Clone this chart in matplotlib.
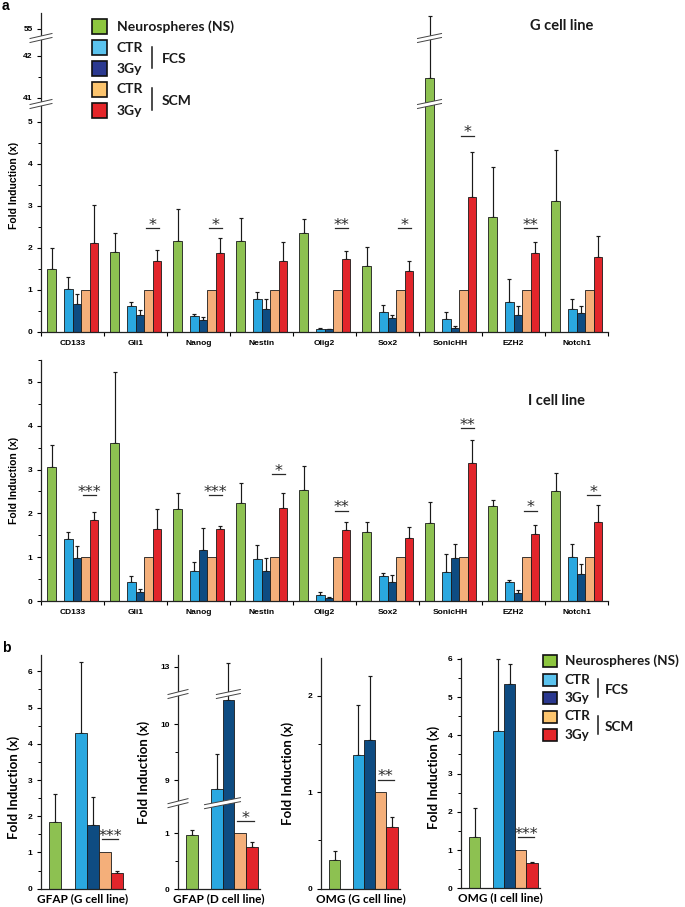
import numpy as np
import matplotlib
matplotlib.use('Agg')
import matplotlib.pyplot as plt
from matplotlib.patches import Rectangle, Polygon

# ---- data ----
genes = ['CD133', 'Gli1', 'Nanog', 'Nestin', 'Olig2', 'Sox2', 'SonicHH', 'EZH2', 'Notch1']

# G cell line (panel a, top)
g_ns = [1.50, 1.91, 2.17, 2.16, 2.36, 1.56, 41.47, 2.73, 3.11]
g_ns_sd = [0.51, 0.45, 0.76, 0.56, 0.32, 0.47, 13.83, 1.19, 1.22]
g_fcs_ctr = [1.02, 0.62, 0.37, 0.78, 0.07, 0.47, 0.30, 0.72, 0.55]
g_fcs_ctr_sd = [0.30, 0.10, 0.07, 0.18, 0.02, 0.17, 0.18, 0.53, 0.24]
g_fcs_3gy = [0.67, 0.40, 0.28, 0.54, 0.06, 0.33, 0.10, 0.40, 0.45]
g_fcs_3gy_sd = [0.23, 0.12, 0.08, 0.24, 0.02, 0.07, 0.05, 0.22, 0.17]
g_scm_ctr = [1.0] * 9
g_scm_3gy = [2.12, 1.70, 1.89, 1.70, 1.74, 1.44, 3.22, 1.87, 1.78]
g_scm_3gy_sd = [0.89, 0.25, 0.34, 0.43, 0.19, 0.25, 1.07, 0.28, 0.51]
g_sig = ['', '*', '*', '', '**', '*', '*', '**', '']
g_sig_y = [0, 2.47, 2.47, 0, 2.47, 2.47, 4.67, 2.47, 0]

# I cell line (panel a, bottom)
i_ns = [3.05, 3.60, 2.11, 2.23, 2.54, 1.58, 1.79, 2.16, 2.52]
i_ns_sd = [0.51, 1.63, 0.35, 0.47, 0.55, 0.22, 0.46, 0.14, 0.41]
i_fcs_ctr = [1.42, 0.44, 0.69, 0.96, 0.14, 0.56, 0.66, 0.43, 1.01]
i_fcs_ctr_sd = [0.15, 0.14, 0.19, 0.31, 0.07, 0.07, 0.41, 0.06, 0.28]
i_fcs_3gy = [0.99, 0.21, 1.17, 0.69, 0.06, 0.43, 0.97, 0.18, 0.62]
i_fcs_3gy_sd = [0.27, 0.06, 0.50, 0.29, 0.02, 0.17, 0.33, 0.06, 0.22]
i_scm_ctr = [1.0] * 9
i_scm_3gy = [1.85, 1.65, 1.64, 2.12, 1.61, 1.44, 3.15, 1.54, 1.81]
i_scm_3gy_sd = [0.17, 0.45, 0.08, 0.34, 0.19, 0.26, 0.53, 0.20, 0.38]
i_sig = ['***', '', '***', '*', '**', '', '**', '*', '*']
i_sig_y = [2.42, 0, 2.42, 2.90, 2.06, 0, 3.95, 2.06, 2.41]

# panel b
b_names = ['GFAP (G cell line)', 'GFAP (D cell line)', 'OMG (G cell line)', 'OMG (I cell line)']
b_ns = [1.85, 0.97, 0.30, 1.33]
b_ns_sd = [0.77, 0.09, 0.09, 0.76]
b_fcs_ctr = [4.31, 8.85, 1.39, 4.11]
b_fcs_ctr_sd = [1.94, 0.61, 0.51, 1.89]
b_fcs_3gy = [1.76, 10.42, 1.54, 5.33]
b_fcs_3gy_sd = [0.78, 2.64, 0.66, 0.53]
b_scm_ctr = [1.0, 1.0, 1.0, 1.0]
b_scm_3gy = [0.42, 0.76, 0.64, 0.65]
b_scm_3gy_sd = [0.08, 0.08, 0.10, 0.05]
b_sig = ['***', '*', '**', '***']
b_sig_y = [1.37, 1.22, 1.13, 1.34]
b_ticks = [[0, 1, 2, 3, 4, 5, 6], [0, 1, 9, 10, 13], [0, 1, 2], [0, 1, 2, 3, 4, 5, 6]]
b_minor = [[0.5, 1.5, 2.5, 3.5, 4.5, 5.5], [0.5, 9.5], [0.5, 1.5], [0.5, 1.5, 2.5, 3.5, 4.5, 5.5]]
b_ytop = [6.45, 13.21, 2.39, 6.02]

legend_labels = ['Neurospheres (NS)', 'CTR', '3Gy', 'CTR', '3Gy']

# ---- style ----
W, H = 685, 907
ARIAL = 'Liberation Sans'
CALIBRI = 'Lato'
bar_cols = ['#8DC151', '#2AA8E0', '#0E4C82', '#F4AF7A', '#E2252B']
leg_cols = ['#8DC63F', '#5BC3EE', '#2B3990', '#FBC46E', '#E5262A']
EDGE = '#1a1a1a'

fig = plt.figure(figsize=(W / 100, H / 100), dpi=100)


def px_axes(x0, y0, x1, y1):
    return fig.add_axes([x0 / W, 1 - y1 / H, (x1 - x0) / W, (y1 - y0) / H])


def piecewise(src, dst):
    s = [src[0] - 1000] + list(src) + [src[-1] + 1000]
    d = [dst[0] - 1000] + list(dst) + [dst[-1] + 1000]
    fwd = lambda v: np.interp(v, s, d)
    inv = lambda v: np.interp(v, d, s)
    return fwd, inv


def draw_bars(ax, x, series, sds, widths):
    for k in range(5):
        ax.bar(x[k], series[k], widths[k], color=bar_cols[k], edgecolor=EDGE, lw=0.6, zorder=2)
        if sds[k] is not None:
            n = len(series[k])
            ax.errorbar(x[k], series[k], yerr=[np.zeros(n), sds[k]], fmt='none', ecolor='#1a1a1a',
                        elinewidth=0.85, capsize=1.3, capthick=0.85, zorder=1)


def sig_mark(ax, x0, x1, y, s):
    ax.plot([x0, x1], [y, y], color='#2a2a2a', lw=0.9, zorder=3)
    ax.annotate(s, ((x0 + x1) / 2, y), xytext=(0, -1.2), textcoords='offset points',
                ha='center', va='baseline', fontsize=11.5, color='#2a2a2a', family='DejaVu Sans')


def style_axes(ax):
    for sp in ['top', 'right']:
        ax.spines[sp].set_visible(False)
    for sp in ['left', 'bottom']:
        ax.spines[sp].set_linewidth(0.9)
        ax.spines[sp].set_color('#222222')
    ax.tick_params(axis='y', which='major', length=3, width=0.8, direction='out', pad=3,
                   labelsize=6)
    ax.tick_params(axis='y', which='minor', length=2, width=0.7, direction='out')
    for lab in ax.get_yticklabels():
        lab.set_fontfamily(ARIAL)
        lab.set_fontweight('bold')


offs = np.array([0.167, 0.435, 0.57, 0.705, 0.84])
widths = [0.155, 0.135, 0.135, 0.135, 0.135]
xg = np.arange(len(genes))


def gene_panel(ax, series, sds, sig, sig_y):
    draw_bars(ax, [xg + o for o in offs], series, sds, widths)
    for i, s in enumerate(sig):
        if s:
            sig_mark(ax, i + 0.66, i + 0.88, sig_y[i], s)
    ax.set_xlim(0, len(genes))
    ax.set_xticks(xg + 0.5)
    ax.set_xticklabels(genes, fontsize=6, fontweight='bold', family=ARIAL)
    ax.set_xticks(np.arange(len(genes) + 1), minor=True)
    ax.tick_params(axis='x', which='major', length=0, pad=6)
    ax.tick_params(axis='x', which='minor', length=3, width=0.8, direction='out')
    ax.set_ylabel('Fold Induction (x)', fontsize=7.5, fontweight='bold', family=ARIAL, va='center')


# overlay for legends, labels, break marks (pixel coordinates, top-down)
ov = fig.add_axes([0, 0, 1, 1], zorder=10)
ov.set_xlim(0, W)
ov.set_ylim(H, 0)
ov.axis('off')


def to_px(ax, x, y):
    dx, dy = ax.transData.transform((x, y))
    return dx, H - dy


def brk(cx, cy, w=11, g=4, s=5):
    xl, xr = cx - w, cx + w
    yl, yr = cy + s / 2, cy - s / 2
    ov.add_patch(Polygon([(xl, yl + g / 2), (xr, yr + g / 2), (xr, yr - g / 2), (xl, yl - g / 2)],
                         closed=True, fc='white', ec='none', zorder=5))
    for d in (g / 2, -g / 2):
        ov.plot([xl, xr], [yl + d, yr + d], color='#444444', lw=0.7, zorder=6)


# ---- panel a: G cell line (broken axis) ----
axG = px_axes(41, 13, 608, 332)
g_src = [0, 5.4, 40.88, 42.4, 54.8, 55.37]
g_dst = [0, 5.4, 5.45, 6.97, 7.02, 7.59]
fG, iG = piecewise(g_src, g_dst)
axG.set_yscale('function', functions=(fG, iG))
axG.set_ylim(0, 55.37)
gene_panel(axG, [g_ns, g_fcs_ctr, g_fcs_3gy, g_scm_ctr, g_scm_3gy],
           [g_ns_sd, g_fcs_ctr_sd, g_fcs_3gy_sd, None, g_scm_3gy_sd], g_sig, g_sig_y)
axG.set_yticks([0, 1, 2, 3, 4, 5, 41, 42, 55], ['0', '1', '2', '3', '4', '5', '41', '42', '55'])
axG.set_yticks([0.5, 1.5, 2.5, 3.5, 4.5, 41.5], minor=True)
style_axes(axG)
axG.yaxis.set_label_coords(-0.0476, 0.46)

# ---- panel a: I cell line ----
axI = px_axes(41, 360, 608, 601)
axI.set_ylim(0, 5.5)
gene_panel(axI, [i_ns, i_fcs_ctr, i_fcs_3gy, i_scm_ctr, i_scm_3gy],
           [i_ns_sd, i_fcs_ctr_sd, i_fcs_3gy_sd, None, i_scm_3gy_sd], i_sig, i_sig_y)
axI.set_yticks([0, 1, 2, 3, 4, 5])
axI.set_yticks([0.5, 1.5, 2.5, 3.5, 4.5, 5.5], minor=True)
style_axes(axI)
axI.yaxis.set_label_coords(-0.0476, 0.5)

# ---- panel b ----
b_boxes = [(41, 655, 125, 888.7), (178, 655, 260, 889.3), (321, 658, 400, 888.7), (461, 658, 540, 888.3)]
b_lab_x = [13.3, 143.3, 287.7, 433.3]
b_lab_y = [0.435, 0.5, 0.5, 0.48]
b_off = [1.2, 3.3, 4.3, 5.3, 6.3]
d_src = [0, 1.5, 8.625, 10.5, 12.55, 13.21]
d_dst = [0, 1.5, 1.57, 3.445, 3.515, 4.175]
fD, iD = piecewise(d_src, d_dst)
b_axes = []
for j in range(4):
    x0, y0, x1, y1 = b_boxes[j]
    ax = px_axes(x0, y0, x1, y1)
    if j == 1:
        ax.set_yscale('function', functions=(fD, iD))
    ax.set_ylim(0, b_ytop[j])
    ax.set_xlim(0, 7.0)
    series = [[b_ns[j]], [b_fcs_ctr[j]], [b_fcs_3gy[j]], [b_scm_ctr[j]], [b_scm_3gy[j]]]
    sds = [[b_ns_sd[j]], [b_fcs_ctr_sd[j]], [b_fcs_3gy_sd[j]], None, [b_scm_3gy_sd[j]]]
    draw_bars(ax, [[o] for o in b_off], series, sds, [1.0] * 5)
    sig_mark(ax, 5.05, 6.45, b_sig_y[j], b_sig[j])
    ax.set_yticks(b_ticks[j], [str(t) for t in b_ticks[j]])
    ax.set_yticks(b_minor[j], minor=True)
    ax.set_xticks([])
    style_axes(ax)
    ax.set_xlabel(b_names[j], fontsize=8.5, fontweight='bold', family=CALIBRI, labelpad=3)
    ax.set_ylabel('Fold Induction (x)', fontsize=9.5, fontweight='bold', family=CALIBRI, va='center')
    ax.yaxis.set_label_coords((b_lab_x[j] - x0) / (x1 - x0), b_lab_y[j])
    b_axes.append(ax)

# ---- break marks ----
for k in (0, 1):
    ymid = iG((g_dst[2 * k + 1] + g_dst[2 * k + 2]) / 2)
    cx, cy = to_px(axG, 0, ymid)
    brk(cx, cy)
    cx, cy = to_px(axG, 6 + offs[0], ymid)
    brk(cx, cy, w=12)
axD = b_axes[1]
for k in (0, 1):
    ymid = iD((d_dst[2 * k + 1] + d_dst[2 * k + 2]) / 2)
    cx, cy = to_px(axD, 0, ymid)
    brk(cx, cy, w=10, g=4, s=5)
lo = iD((d_dst[1] + d_dst[2]) / 2)
hi = iD((d_dst[3] + d_dst[4]) / 2)
cx, cy = to_px(axD, (b_off[1] + b_off[2]) / 2, lo)
brk(cx, cy, w=18, g=4, s=7)
cx, cy = to_px(axD, b_off[2], hi)
brk(cx, cy, w=12, g=4, s=5)

# ---- legends ----
def legend(x_box, rows, bw, bh, x_txt, x_br, txt_x, fs):
    for k in range(5):
        ov.add_patch(Rectangle((x_box - bw / 2, rows[k] - bh / 2), bw, bh, fc=leg_cols[k],
                               ec='#111111', lw=1.2, zorder=4))
        ov.text(x_txt, rows[k], legend_labels[k], fontsize=fs, fontweight='bold',
                family=CALIBRI, va='center', ha='left', color='#1a1a1a')
    for a, b, name in ((1, 2, 'FCS'), (3, 4, 'SCM')):
        ov.plot([x_br, x_br], [rows[a] - 1, rows[b] - 1], color='#1a1a1a', lw=1.1)
        ov.text(txt_x, (rows[a] + rows[b]) / 2 + 1, name, fontsize=fs, fontweight='bold',
                family=CALIBRI, va='center', ha='left', color='#1a1a1a')


legend(99.5, [26.7, 47.7, 68.7, 89.3, 110.7], 15, 15, 116.7, 152.3, 161.7, 10)
legend(550.5, [661, 679.5, 698, 716.5, 735], 14, 12, 565, 598.3, 605, 9.7)

# ---- text ----
ov.text(562, 26, 'G cell line', fontsize=10.5, fontweight='bold', family=CALIBRI,
        ha='center', va='center', color='#1a1a1a')
ov.text(557, 401, 'I cell line', fontsize=10.5, fontweight='bold', family=CALIBRI,
        ha='center', va='center', color='#1a1a1a')
ov.text(2, 6.5, 'a', fontsize=10, fontweight='bold', family=ARIAL, ha='left', va='center')
ov.text(2, 648, 'b', fontsize=10, fontweight='bold', family=ARIAL, ha='left', va='center')

fig.savefig('out.png', dpi=100)
